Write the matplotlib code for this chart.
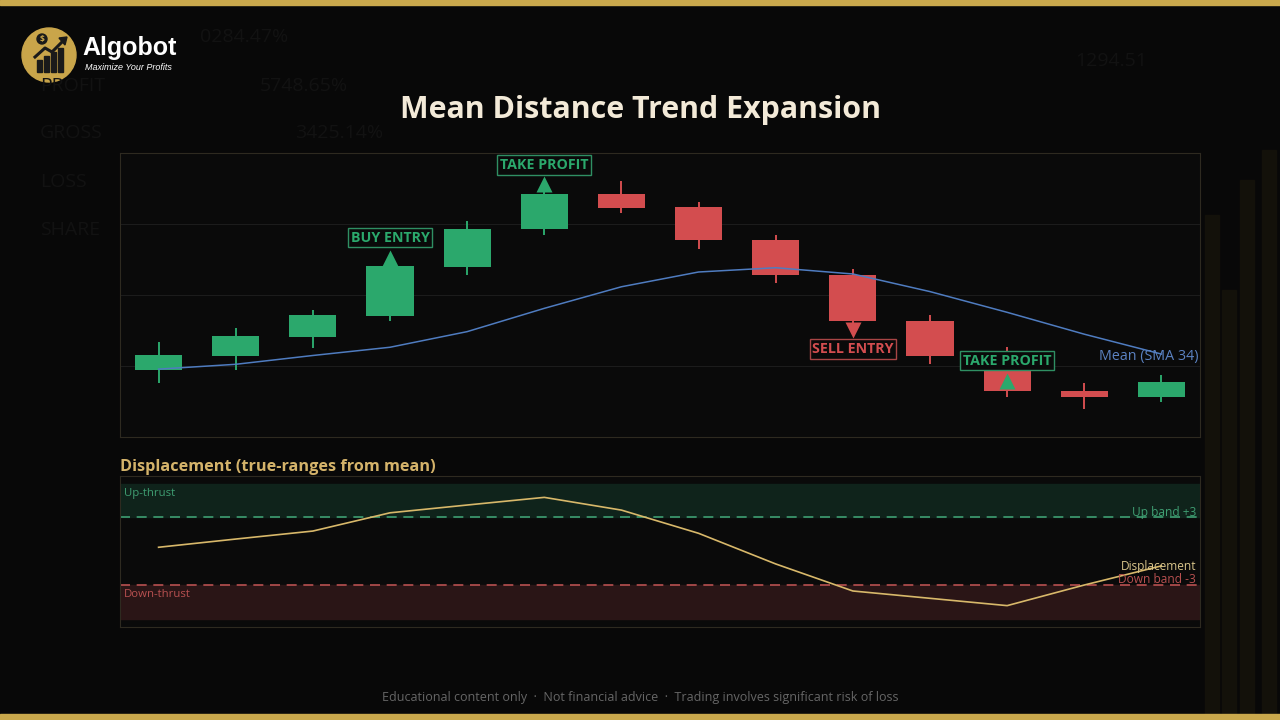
import numpy as np
import matplotlib
matplotlib.use("Agg")
from matplotlib import pyplot as plt
from matplotlib.patches import Circle, Rectangle, Polygon

plt.rcParams['font.family'] = ['Open Sans', 'DejaVu Sans']

# candles (price units of the upper panel, 0..100)
opens  = [23.7, 28.6, 35.1, 42.7, 59.8, 73.1, 85.6, 80.9, 69.4, 57.1, 41.0, 23.6, 16.3, 14.2]
closes = [28.8, 35.5, 43.0, 60.1, 73.3, 85.6, 80.7, 69.3, 56.9, 40.7, 28.6, 16.1, 14.2, 19.3]
highs  = [33.5, 38.3, 44.7, 60.6, 76.2, 86.3, 90.2, 82.7, 71.2, 59.2, 43.0, 31.6, 19.1, 21.8]
lows   = [18.9, 23.7, 31.4, 40.7, 56.9, 71.0, 78.8, 66.3, 54.1, 40.1, 25.6, 14.2, 9.8, 12.4]
sma    = [23.9, 25.6, 28.7, 31.6, 37.1, 45.3, 52.9, 58.1, 59.6, 57.4, 51.2, 43.9, 36.2, 29.2]

# displacement (true-ranges from mean)
displacement = [0.35, 1.08, 1.79, 3.41, 4.1, 4.78, 3.65, 1.59, -1.13, -3.53, -4.18, -4.83, -3.0, -1.3]
up_band, down_band = 3, -3

# signals: (candle index, label, kind)
signals = [(3, "BUY ENTRY", "buy"), (5, "TAKE PROFIT", "tp_top"),
           (9, "SELL ENTRY", "sell"), (11, "TAKE PROFIT", "tp_low")]

# faint background words
ghost_text = [("0284.47%", 200, 37), ("PROFIT", 40, 86), ("5748.65%", 260, 86),
              ("GROSS", 40, 133), ("3425.14%", 295, 133), ("LOSS", 40, 182),
              ("SHARE", 40, 230), ("1294.51", 1075, 61)]

BG = "#080808"
PANEL = "#0a0a0a"
EDGE = "#2e2a20"
GREEN = "#2ba86c"
RED = "#d34d4f"
GOLD = "#c9a84c"

fig = plt.figure(figsize=(12.8, 7.2), dpi=100, facecolor=BG)

# background layer in pixel coords
bg = fig.add_axes([0, 0, 1, 1])
bg.set_xlim(0, 1280)
bg.set_ylim(720, 0)
bg.axis("off")
for txt, x, y in ghost_text:
    bg.text(x, y, txt, color="#121212", fontsize=14, va="center", ha="left")
for x, top in [(1205, 215), (1222, 290), (1240, 180), (1262, 150)]:
    bg.add_patch(Rectangle((x, top), 14, 720 - top, color="#13110a", zorder=0))

# gold bars top/bottom
bg.add_patch(Rectangle((0, 0), 1280, 5, color=GOLD))
bg.add_patch(Rectangle((0, 714), 1280, 6, color=GOLD))

# logo
bg.add_patch(Circle((49, 55), 27, color="#c9a54a"))
for bx, bh in [(37, 12), (44, 16), (51, 20), (58, 24)]:
    bg.add_patch(Rectangle((bx, 72 - bh), 5, bh, color="#1a1a1a"))
bg.plot([35, 45, 52, 64], [57, 48, 52, 40], color="#1a1a1a", lw=2.2)
bg.add_patch(Polygon([[59, 38], [67, 37], [65, 45]], color="#1a1a1a"))
bg.add_patch(Circle((42, 39), 5, color="#1a1a1a"))
bg.text(42, 39.5, "$", color="#c9a54a", fontsize=6, ha="center", va="center", fontweight="bold")
bg.text(82, 48, "Algobot", color="white", fontsize=18, fontweight="bold",
        ha="left", va="center", family=["Liberation Sans", "DejaVu Sans"])
bg.text(85, 68, "Maximize Your Profits", color="white", fontsize=6.5, style="italic",
        ha="left", va="center", family=["Liberation Sans", "DejaVu Sans"])

# titles and footer
bg.text(640, 110, "Mean Distance Trend Expansion", color="#f3ead8", fontsize=21.9,
        fontweight="bold", ha="center", va="center")
bg.text(120, 467, "Displacement (true-ranges from mean)", color="#d4b36a", fontsize=11.7,
        fontweight="bold", ha="left", va="center")
bg.text(640, 698, "Educational content only  \u00b7  Not financial advice  \u00b7  Trading involves significant risk of loss",
        color="#666666", fontsize=9.0, ha="center", va="center")

# upper panel: candles
ax = fig.add_axes([120 / 1280, 1 - 437 / 720, 1080 / 1280, 284 / 720])
ax.set_facecolor(PANEL)
x = np.arange(len(opens))
o = np.array(opens)
c = np.array(closes)
colors = [GREEN if cc >= oo else RED for oo, cc in zip(o, c)]
ax.vlines(x, lows, highs, colors=colors, lw=1.4, zorder=2)
ax.bar(x, np.abs(c - o), bottom=np.minimum(o, c), width=0.61, color=colors, zorder=3)
ax.plot(x, sma, color="#4f7cc0", lw=1.1, zorder=4)
ax.text(13.48, sma[-1] - 0.8, "Mean (SMA 34)", color="#5b82c2", fontsize=10.3,
        ha="right", va="center", zorder=5)
for yv in [25, 50, 75]:
    ax.axhline(yv, color="#1c1c1c", lw=0.8, zorder=1)

for i, label, kind in signals:
    if kind == "buy":
        ax.plot(i, highs[i] + 2.6, marker="^", ms=12, color=GREEN, zorder=5, mec="none")
        ty, fc, ec = highs[i] + 9.6, GREEN, "#2f8f63"
    elif kind == "tp_top":
        ax.plot(i, highs[i] + 2.7, marker="^", ms=12, color=GREEN, zorder=5, mec="none")
        ty, fc, ec = highs[i] + 9.5, GREEN, "#2f8f63"
    elif kind == "sell":
        ax.plot(i, lows[i] - 2.6, marker="v", ms=12, color=RED, zorder=5, mec="none")
        ty, fc, ec = lows[i] - 9.1, RED, "#a84545"
    else:
        ax.plot(i, (opens[i] + closes[i]) / 2 - 0.2, marker="^", ms=12, color=GREEN, zorder=5, mec="none")
        ty, fc, ec = highs[i] - 4.8, GREEN, "#2f8f63"
    ax.text(i, ty, label, color=fc, fontsize=10.3, fontweight="bold", ha="center", va="center",
            zorder=6, bbox=dict(boxstyle="square,pad=0.18", fc=PANEL, ec=ec, lw=1))

ax.set_xlim(-0.5, 13.5)
ax.set_ylim(0, 100)
ax.set_xticks([])
ax.set_yticks([])
for s in ax.spines.values():
    s.set_color(EDGE)

# lower panel: displacement
ax2 = fig.add_axes([120 / 1280, 1 - 626.7 / 720, 1080 / 1280, 150.4 / 720])
ax2.set_facecolor(PANEL)
ax2.axhspan(up_band, 6, color="#0f231b", zorder=0)
ax2.axhspan(-6, down_band, color="#2a1516", zorder=0)
ax2.axhline(up_band, color="#3f9e72", lw=1.2, dashes=(6, 4), zorder=1)
ax2.axhline(down_band, color="#b85050", lw=1.2, dashes=(6, 4), zorder=1)
ax2.plot(x, displacement, color="#d8b86a", lw=1.2, zorder=3)
ax2.text(-0.45, 5.1, "Up-thrust", color="#3f9e72", fontsize=8.2, ha="left", va="center")
ax2.text(-0.45, -3.8, "Down-thrust", color="#b85050", fontsize=8.2, ha="left", va="center")
ax2.text(13.45, 3.4, "Up band +3", color="#3f9e72", fontsize=8.6, ha="right", va="center")
ax2.text(13.45, -2.5, "Down band -3", color="#b85050", fontsize=8.6, ha="right", va="center")
ax2.text(13.45, -1.4, "Displacement", color="#d8c48a", fontsize=8.6, ha="right", va="center")
ax2.set_xlim(-0.5, 13.5)
ax2.set_ylim(-6.7, 6.65)
ax2.set_xticks([])
ax2.set_yticks([])
for s in ax2.spines.values():
    s.set_color(EDGE)

fig.savefig("out.png", dpi=100, facecolor=BG)
